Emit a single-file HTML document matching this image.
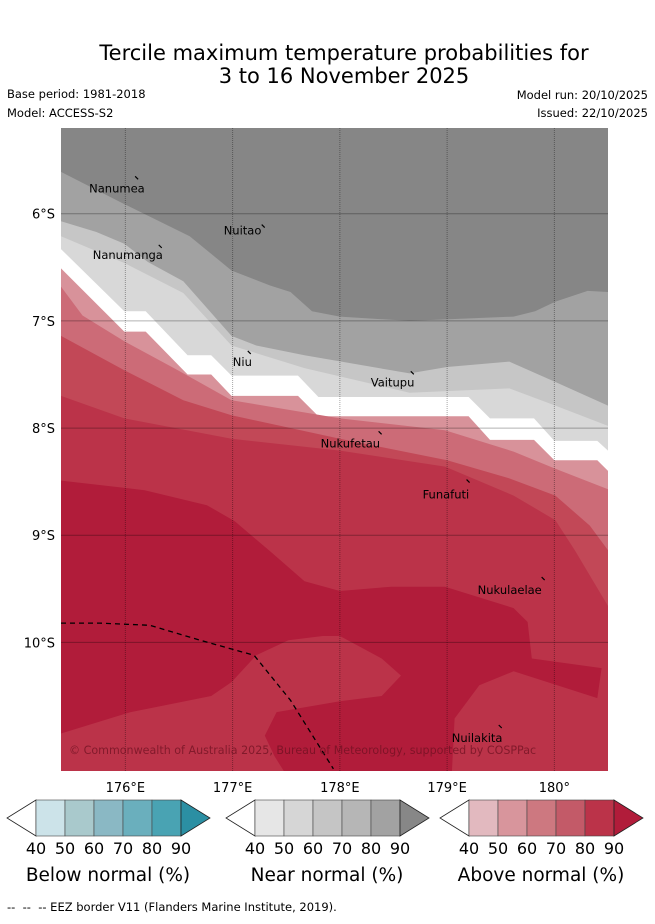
<!DOCTYPE html>
<html><head><meta charset="utf-8">
<style>
body{margin:0;background:#fff;width:655px;height:919px;overflow:hidden;font-family:"Liberation Sans","DejaVu Sans",sans-serif;}
svg text{font-family:"DejaVu Sans","Liberation Sans",sans-serif;}
</style></head>
<body>
<svg id="chart" width="655" height="919" xmlns="http://www.w3.org/2000/svg">
<text x="344" y="60" font-size="21" text-anchor="middle">Tercile maximum temperature probabilities for</text>
<text x="344" y="83" font-size="21" text-anchor="middle">3 to 16 November 2025</text>
<text x="7" y="98" font-size="11.5">Base period: 1981-2018</text>
<text x="7" y="117" font-size="11.5">Model: ACCESS-S2</text>
<text x="648" y="99" font-size="11.5" text-anchor="end">Model run: 20/10/2025</text>
<text x="648" y="117" font-size="11.5" text-anchor="end">Issued: 22/10/2025</text>
<defs><clipPath id="mapclip"><rect x="61" y="128" width="547" height="643"/></clipPath></defs>
<g id="map" clip-path="url(#mapclip)"></g>
<g id="axes"></g>
<g id="bars"></g>
<text x="7" y="911" font-size="11.5">-- &#160;-- &#160;-- EEZ border V11 (Flanders Marine Institute, 2019).</text>
</svg>
<script>
const NS='http://www.w3.org/2000/svg';
const lonMin=175.4,lonMax=180.5,latTop=5.2,latBot=11.2;
const X0=61,X1=608,Y0=128,Y1=771;
function xs(lon){return X0+(lon-lonMin)/(lonMax-lonMin)*(X1-X0);}
function ys(lat){return Y0+(lat-latTop)/(latBot-latTop)*(Y1-Y0);}

const bandColors=['#a2a2a2','#c6c6c6','#d8d8d8','#ffffff','#d8929a','#cc6b77','#c24857','#bb3349'];
const bandNames=['near-80','near-70','near-60','near-50','above-50','above-60','above-70','above-80'];
const bGray80=[[175.40,5.61],[175.99,5.91],[176.60,6.21],[176.99,6.53],[177.35,6.67],[177.54,6.73],[177.74,6.91],[178.00,6.96],[178.65,7.00],[179.62,6.96],[179.82,6.91],[180.01,6.82],[180.31,6.72],[180.50,6.73]];
const bGray70=[[175.40,6.07],[175.73,6.17],[175.99,6.28],[176.21,6.45],[176.54,6.63],[176.99,7.14],[177.22,7.23],[177.67,7.32],[178.65,7.49],[179.00,7.43],[179.58,7.38],[180.01,7.57],[180.50,7.79]];
const bGray60=[[175.40,6.21],[175.99,6.46],[176.54,6.74],[176.99,7.23],[177.67,7.44],[178.65,7.67],[179.58,7.63],[180.01,7.79],[180.50,7.98]];
const bWhite=[[175.40,6.33],[175.99,6.91],[176.19,6.91],[176.58,7.32],[176.80,7.32],[176.99,7.51],[177.61,7.51],[177.80,7.71],[179.20,7.71],[179.40,7.91],[179.81,7.91],[180.00,8.12],[180.40,8.12],[180.50,8.21]];
const bRed50=[[175.40,6.51],[175.99,7.10],[176.19,7.10],[176.58,7.50],[176.80,7.50],[176.99,7.70],[177.61,7.70],[177.80,7.89],[179.20,7.89],[179.40,8.11],[179.81,8.11],[180.00,8.30],[180.40,8.30],[180.50,8.40]];
const bRed60=[[175.40,6.68],[175.60,6.95],[175.99,7.19],[176.47,7.45],[176.99,7.74],[178.00,7.91],[178.98,8.02],[179.62,8.22],[180.01,8.38],[180.50,8.57]];
const bRed70=[[175.40,7.14],[175.99,7.46],[176.54,7.74],[176.99,7.88],[178.00,8.10],[179.00,8.30],[179.58,8.47],[180.01,8.63],[180.33,8.91],[180.50,9.14]];
const bRed80=[[175.40,7.70],[175.99,7.91],[176.99,8.10],[178.00,8.21],[178.98,8.36],[179.62,8.63],[180.01,8.86],[180.19,9.14],[180.50,9.66]];
const bands=[bGray80,bGray70,bGray60,bWhite,bRed50,bRed60,bRed70,bRed80];
const red90=[[175.40,8.49],[176.18,8.58],[176.76,8.72],[177.02,8.87],[177.35,9.15],[177.67,9.43],[178.00,9.52],[178.48,9.48],[178.98,9.48],[179.62,9.68],[179.75,9.81],[179.79,10.15],[180.44,10.24],[180.40,10.52],[179.62,10.27],[179.30,10.40],[179.07,10.71],[179.04,11.30],[175.30,11.30]];
const red80Patch=[[175.40,10.85],[176.05,10.65],[176.80,10.50],[176.99,10.37],[177.22,10.12],[177.52,9.98],[177.84,9.94],[178.00,9.94],[178.39,10.15],[178.57,10.31],[178.39,10.50],[178.00,10.55],[177.41,10.65],[177.30,10.87],[177.39,11.06],[177.54,11.30],[175.30,11.30]];
const eez=[[175.40,9.82],[175.76,9.82],[176.23,9.84],[176.70,9.98],[177.20,10.12],[177.54,10.54],[177.94,11.18]];
const islandNames=['Nanumea','Nuitao','Nanumanga','Niu','Vaitupu','Nukufetau','Funafuti','Nukulaelae','Nuilakita'];
const islandLon=[176.11,177.29,176.33,177.16,178.68,178.38,179.20,179.90,179.50];
const islandLat=[5.66,6.11,6.30,7.29,7.48,8.04,8.49,9.40,10.78];
const labelDx=[-48,-40,-68,-17,-42,-60,-46,-66,-49];
const labelDy=[15,9,13,14,14,15,18,16,16];
const lonTicks=[176,177,178,179,180];
const lonTickLabels=['176°E','177°E','178°E','179°E','180°'];
const latTicks=[6,7,8,9,10];
const latTickLabels=['6°S','7°S','8°S','9°S','10°S'];
const cbTitles=['Below normal (%)','Near normal (%)','Above normal (%)'];
const cbLeft=[6,225,439];
const cbColors=[['#cce3e9','#a9c9cc','#8ab8c4','#6aafbd','#49a3b3','#2b8fa3'],['#e6e6e6','#d6d6d6','#c5c5c5','#b6b6b6','#a2a2a2','#878787'],['#e2b9bf','#d8959c','#cd7880','#c35a68','#bb3349','#b11c3a']];
const cbTicks=['40','50','60','70','80','90'];

const map=document.getElementById('map');
function pts(a){return a.map(p=>xs(p[0]).toFixed(1)+','+ys(p[1]).toFixed(1)).join(' ');}
let bg=document.createElementNS(NS,'rect');
bg.setAttribute('x',X0);bg.setAttribute('y',Y0);bg.setAttribute('width',X1-X0);bg.setAttribute('height',Y1-Y0);bg.setAttribute('fill','#868686');


map.appendChild(bg);
bands.forEach((b,i)=>{
  const full=[[175.3,b[0][1]]].concat(b,[[180.6,b[b.length-1][1]],[180.6,11.3],[175.3,11.3]]);
  const p=document.createElementNS(NS,'polygon');
  p.setAttribute('points',pts(full));p.setAttribute('fill',bandColors[i]);
  
  
  map.appendChild(p);
});
[[red90,'#b11c3a','above-90-band'],[red80Patch,'#bb3349','above-80-patch']].forEach(r=>{
  const p=document.createElementNS(NS,'polygon');
  p.setAttribute('points',pts(r[0]));p.setAttribute('fill',r[1]);
  
  
  map.appendChild(p);
});
latTicks.forEach(t=>{
  const l=document.createElementNS(NS,'line');
  l.setAttribute('x1',X0);l.setAttribute('x2',X1);l.setAttribute('y1',ys(t));l.setAttribute('y2',ys(t));
  l.setAttribute('stroke','#000');l.setAttribute('stroke-opacity','0.3');l.setAttribute('stroke-width','1');
  
  
  map.appendChild(l);
});
lonTicks.forEach(t=>{
  const l=document.createElementNS(NS,'line');
  l.setAttribute('x1',xs(t));l.setAttribute('x2',xs(t));l.setAttribute('y1',Y0);l.setAttribute('y2',Y1);
  l.setAttribute('stroke','#000');l.setAttribute('stroke-opacity','0.35');l.setAttribute('stroke-dasharray','1,1');
  
  
  map.appendChild(l);
});
const e=document.createElementNS(NS,'polyline');
e.setAttribute('points',pts(eez));e.setAttribute('fill','none');e.setAttribute('stroke','#000');e.setAttribute('stroke-width','1.3');e.setAttribute('stroke-dasharray','5,4');


map.appendChild(e);
islandNames.forEach((n,i)=>{
  const x=xs(islandLon[i]),y=ys(islandLat[i]);
  const m=document.createElementNS(NS,'line');
  m.setAttribute('x1',x-2);m.setAttribute('y1',y-1);m.setAttribute('x2',x+1);m.setAttribute('y2',y+2);m.setAttribute('stroke','#000');m.setAttribute('stroke-width','1.2');
  
  
  map.appendChild(m);
  const t=document.createElementNS(NS,'text');
  t.setAttribute('x',x+labelDx[i]);t.setAttribute('y',y+labelDy[i]);t.setAttribute('font-size','11.5');t.textContent=n;
  
  
  map.appendChild(t);
});
const c=document.createElementNS(NS,'text');
c.setAttribute('x',69);c.setAttribute('y',754);c.setAttribute('font-size','11.1');c.setAttribute('fill','#6a1020');c.setAttribute('fill-opacity','0.7');
c.textContent='© Commonwealth of Australia 2025, Bureau of Meteorology, supported by COSPPac';


map.appendChild(c);
const ax=document.getElementById('axes');
lonTicks.forEach((t,i)=>{
  const tx=document.createElementNS(NS,'text');
  tx.setAttribute('x',xs(t));tx.setAttribute('y',792);tx.setAttribute('font-size','13');tx.setAttribute('text-anchor','middle');tx.textContent=lonTickLabels[i];
  
  
  ax.appendChild(tx);
});
latTicks.forEach((t,i)=>{
  const tx=document.createElementNS(NS,'text');
  tx.setAttribute('x',55);tx.setAttribute('y',ys(t)+5);tx.setAttribute('font-size','13');tx.setAttribute('text-anchor','end');tx.textContent=latTickLabels[i];
  
  
  ax.appendChild(tx);
});
const bars=document.getElementById('bars');
const segW=29,cy0=800,cy1=836;
cbTitles.forEach((title,k)=>{
  const L=cbLeft[k],r0=L+30,r1=r0+5*segW;
  const lt=document.createElementNS(NS,'polygon');
  lt.setAttribute('points',`${r0},${cy0} ${L+1},${(cy0+cy1)/2} ${r0},${cy1}`);lt.setAttribute('fill','#fff');lt.setAttribute('stroke','#222');lt.setAttribute('stroke-width','0.8');
  
  
  bars.appendChild(lt);
  for(let j=0;j<5;j++){
    const r=document.createElementNS(NS,'rect');
    r.setAttribute('x',r0+j*segW);r.setAttribute('y',cy0);r.setAttribute('width',segW);r.setAttribute('height',cy1-cy0);
    r.setAttribute('fill',cbColors[k][j]);r.setAttribute('stroke','#444');r.setAttribute('stroke-width','0.6');
    
    
    bars.appendChild(r);
  }
  const rt=document.createElementNS(NS,'polygon');
  rt.setAttribute('points',`${r1},${cy0} ${r1+29},${(cy0+cy1)/2} ${r1},${cy1}`);rt.setAttribute('fill',cbColors[k][5]);rt.setAttribute('stroke','#222');rt.setAttribute('stroke-width','0.8');
  
  
  bars.appendChild(rt);
  cbTicks.forEach((tk,j)=>{
    const t=document.createElementNS(NS,'text');
    t.setAttribute('x',r0+j*segW);t.setAttribute('y',854);t.setAttribute('font-size','16');t.setAttribute('text-anchor','middle');t.textContent=tk;
    
    
    bars.appendChild(t);
  });
  const tt=document.createElementNS(NS,'text');
  tt.setAttribute('x',(L+r1+29)/2);tt.setAttribute('y',881);tt.setAttribute('font-size','18.5');tt.setAttribute('text-anchor','middle');tt.textContent=title;
  
  
  bars.appendChild(tt);
});
</script>
</body></html>
